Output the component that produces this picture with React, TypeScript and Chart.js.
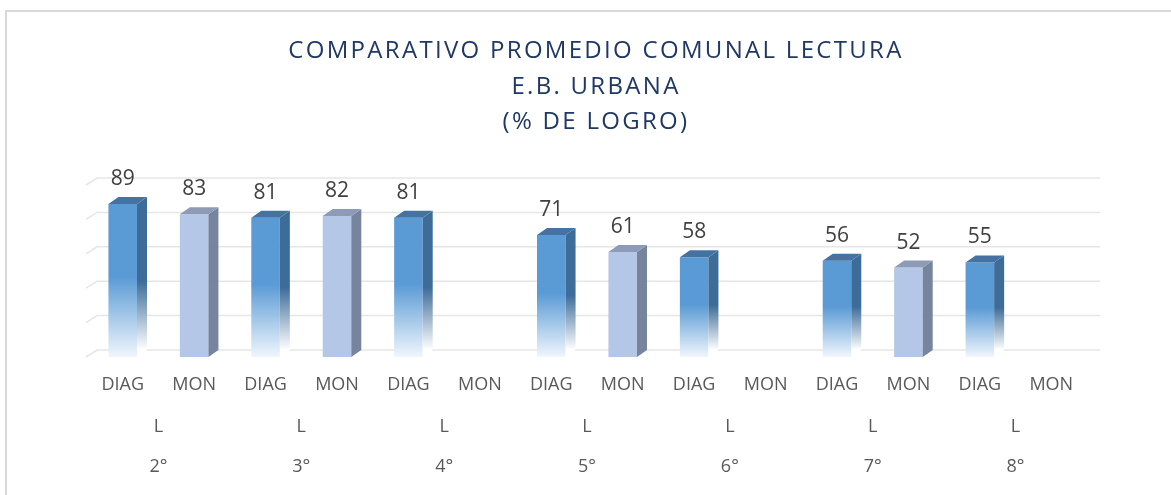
import React, { useEffect, useRef } from "react";
import { Chart, registerables } from "chart.js";

Chart.register(...registerables);

const categories = ["DIAG", "MON", "DIAG", "MON", "DIAG", "MON", "DIAG", "MON", "DIAG", "MON", "DIAG", "MON", "DIAG", "MON"];
const subjectLabels = ["L", "L", "L", "L", "L", "L", "L"];
const gradeLabels = ["2°", "3°", "4°", "5°", "6°", "7°", "8°"];
const values: (number | null)[] = [89, 83, 81, 82, 81, null, 71, 61, 58, null, 56, 52, 55, null];
const yTicks = [0, 20, 40, 60, 80, 100];

const FONT = "'Open Sans', 'Noto Sans', sans-serif";
const DX = 10;
const DY = 7;

const threeD = {
  id: "threeD",
  beforeDatasetsDraw(chart: any) {
    const { ctx, chartArea } = chart;
    const y = chart.scales.y;
    ctx.save();
    ctx.strokeStyle = "#e6e6e6";
    ctx.lineWidth = 1.5;
    yTicks.forEach((v) => {
      const py = y.getPixelForValue(v);
      ctx.beginPath();
      ctx.moveTo(chartArea.left - 1, py);
      ctx.lineTo(chartArea.left + DX, py - DY);
      ctx.lineTo(chartArea.right + DX + 3, py - DY);
      ctx.stroke();
    });
    ctx.restore();
  },
  afterDatasetsDraw(chart: any) {
    const { ctx } = chart;
    const meta = chart.getDatasetMeta(0);
    ctx.save();
    meta.data.forEach((bar: any, i: number) => {
      const v = values[i];
      if (v == null) return;
      const { x, y, base, width } = bar.getProps(["x", "y", "base", "width"], true);
      const l = x - width / 2;
      const r = x + width / 2;
      const diag = categories[i] === "DIAG";
      let side: any;
      if (diag) {
        side = ctx.createLinearGradient(0, y - DY, 0, base - DY);
        side.addColorStop(0, "#3d6c98");
        side.addColorStop(0.55, "#3d6c98");
        side.addColorStop(1, "rgba(255,255,255,1)");
      } else {
        side = "#76849e";
      }
      ctx.fillStyle = side;
      ctx.beginPath();
      ctx.moveTo(r, y);
      ctx.lineTo(r + DX, y - DY);
      ctx.lineTo(r + DX, base - DY);
      ctx.lineTo(r, base);
      ctx.closePath();
      ctx.fill();
      ctx.fillStyle = diag ? "#4473a3" : "#8d9bb6";
      ctx.beginPath();
      ctx.moveTo(l, y);
      ctx.lineTo(l + DX, y - DY);
      ctx.lineTo(r + DX, y - DY);
      ctx.lineTo(r, y);
      ctx.closePath();
      ctx.fill();
      ctx.fillStyle = "#404040";
      ctx.font = `21px ${FONT}`;
      ctx.textAlign = "center";
      ctx.textBaseline = "middle";
      ctx.fillText(String(v), x, y - 25);
    });
    ctx.restore();
  },
};

export default function App() {
  const ref = useRef<HTMLCanvasElement | null>(null);
  useEffect(() => {
    if (!ref.current) return;
    const chart = new Chart(ref.current, {
      type: "bar",
      data: {
        labels: categories,
        datasets: [
          {
            data: values as any,
            xAxisID: "x",
            yAxisID: "y",
            barPercentage: 0.4,
            categoryPercentage: 1,
            borderWidth: 0,
            backgroundColor: (c: any) => {
              const i = c.dataIndex;
              if (categories[i] !== "DIAG") return "#b4c7e7";
              const ch = c.chart;
              if (!ch.chartArea || values[i] == null) return "#5b9bd5";
              const ys = ch.scales.y;
              const top = ys.getPixelForValue(values[i] as number);
              const bot = ys.getPixelForValue(0);
              const g = ch.ctx.createLinearGradient(0, top, 0, bot);
              g.addColorStop(0, "#5b9bd5");
              g.addColorStop(0.48, "#5b9bd5");
              g.addColorStop(1, "rgba(240,246,253,1)");
              return g;
            },
          },
        ],
      },
      options: {
        animation: false,
        responsive: true,
        maintainAspectRatio: false,
        layout: { padding: { top: 185, left: 87, right: 84, bottom: 0 } },
        plugins: { legend: { display: false }, tooltip: { enabled: false }, title: { display: false } },
        scales: {
          y: { display: false, min: 0, max: 100 },
          x: {
            type: "category",
            position: "bottom",
            weight: 0,
            grid: { display: false, drawTicks: false },
            border: { display: false },
            ticks: { color: "#595959", font: { family: FONT, size: 18 }, padding: 17, maxRotation: 0, autoSkip: false },
            afterFit: (s: any) => {
              s.height = 45;
            },
          },
          x2: {
            type: "category",
            position: "bottom",
            weight: 1,
            labels: subjectLabels.map((s, i) => [s, gradeLabels[i]]) as any,
            offset: true,
            grid: { display: false, drawTicks: false },
            border: { display: false },
            ticks: { color: "#595959", font: { family: FONT, size: 18, lineHeight: "40px" as any }, padding: 5, maxRotation: 0, autoSkip: false },
            afterFit: (s: any) => {
              s.height = 93;
            },
          },
        },
      },
      plugins: [threeD],
    });
    return () => chart.destroy();
  }, []);

  return (
    <div style={{ position: "fixed", left: 0, top: 0, width: 1171, height: 495, background: "#ffffff", overflow: "hidden" }}>
      <div
        style={{
          position: "absolute",
          left: 5,
          top: 10,
          width: 1200,
          height: 520,
          borderLeft: "2px solid #d9d9d9",
          borderTop: "2px solid #d9d9d9",
        }}
      />
      <canvas ref={ref} style={{ position: "absolute", left: 0, top: 0, width: 1171, height: 495 }} />
      <div
        style={{
          position: "absolute",
          left: 0,
          top: 31,
          width: 1171,
          paddingLeft: 21,
          boxSizing: "border-box",
          textAlign: "center",
          fontFamily: FONT,
          fontSize: 24,
          letterSpacing: 2.3,
          lineHeight: "35.5px",
          color: "#1f3864",
          pointerEvents: "none",
        }}
      >
        <div>COMPARATIVO PROMEDIO COMUNAL LECTURA</div>
        <div>E.B. URBANA</div>
        <div>(% DE LOGRO)</div>
      </div>
    </div>
  );
}
